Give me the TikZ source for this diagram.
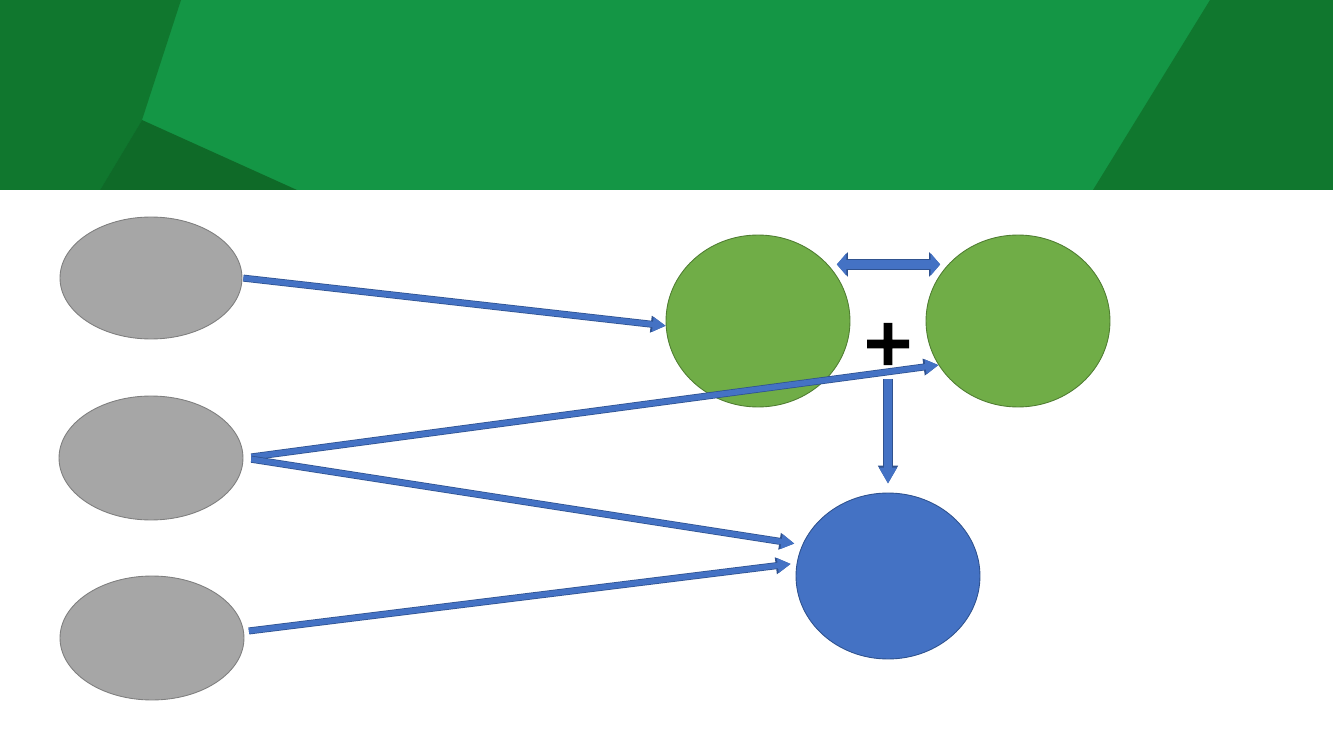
\documentclass[tikz,border=0pt]{standalone}
\usepackage{fontspec}
\usetikzlibrary{shapes.geometric,arrows.meta}
\newfontfamily\plusfont{DejaVu Sans}[BoldFeatures={FakeBold=2}]
\definecolor{hdrlight}{HTML}{149645}
\definecolor{hdrdark}{HTML}{10772E}
\definecolor{hdrdeep}{HTML}{0F6A28}
\definecolor{grayfill}{HTML}{A6A6A6}
\definecolor{grayline}{HTML}{7F7F7F}
\definecolor{leaffill}{HTML}{70AD47}
\definecolor{leafline}{HTML}{507E32}
\definecolor{bluefill}{HTML}{4472C4}
\definecolor{blueline}{HTML}{2F528F}
% 1px of the reference = 0.02cm
\tikzset{
  grayoval/.style={ellipse,fill=grayfill,draw=grayline,line width=0.5pt,inner sep=0pt,
    minimum width=3.64cm,minimum height=2.44cm},
  leafoval/.style={ellipse,fill=leaffill,draw=leafline,line width=0.5pt,inner sep=0pt,
    minimum width=3.68cm,minimum height=3.44cm},
  blueoval/.style={ellipse,fill=bluefill,draw=blueline,line width=0.5pt,inner sep=0pt,
    minimum width=3.68cm,minimum height=3.32cm},
  blockarrow/.style={line width=0.11cm,draw=bluefill,
    -{Triangle[width=0.28cm,length=0.26cm]},
    preaction={draw=blueline,line width=0.14cm,-{Triangle[width=0.32cm,length=0.3cm]}}},
  fatarrow/.style={line width=0.16cm,draw=bluefill,
    -{Triangle[width=0.34cm,length=0.32cm]},
    preaction={draw=blueline,line width=0.19cm,-{Triangle[width=0.38cm,length=0.36cm]}}},
  twinarrow/.style={line width=0.18cm,draw=bluefill,
    {Triangle[width=0.44cm,length=0.19cm]}-{Triangle[width=0.44cm,length=0.19cm]},
    preaction={draw=blueline,line width=0.21cm,
      {Triangle[width=0.48cm,length=0.22cm]}-{Triangle[width=0.48cm,length=0.22cm]}}}
}
\begin{document}
\begin{tikzpicture}[x=0.02cm,y=-0.02cm]
\useasboundingbox (0,0) rectangle (1333,750);
% header band
\fill[hdrlight] (0,0) rectangle (1333,190);
\fill[hdrdark] (0,0) -- (181,0) -- (142,120) -- (100,190) -- (0,190) -- cycle;
\fill[hdrdeep] (142,120) -- (297,190) -- (100,190) -- cycle;
\fill[hdrdark] (1210,0) -- (1333,0) -- (1333,190) -- (1093,190) -- cycle;
% ovals
\node[grayoval] (E1) at (151,278) {};
\node[grayoval,minimum width=3.68cm,minimum height=2.48cm] (E2) at (151,458) {};
\node[grayoval,minimum width=3.68cm,minimum height=2.48cm] (E3) at (152,638) {};
\node[leafoval] (G1) at (758,321) {};
\node[leafoval] (G2) at (1018,321) {};
\node[blueoval] (B) at (888,576) {};
\node[font=\plusfont\bfseries\fontsize{37}{37}\selectfont,inner sep=0pt] (P) at (888,344) {+};
% arrows
\draw[blockarrow,shorten <=0.02cm] (E1.east) -- (G1.183);
\draw[blockarrow,shorten <=0.16cm] (E2.east) -- (G2.209);
\draw[blockarrow,shorten <=0.16cm,shorten >=0.16cm] (E2.east) -- (B.160);
\draw[blockarrow,shorten <=0.1cm,shorten >=0.12cm] (E3.4) -- (B.172);
\draw[twinarrow,shorten <=0.18cm,shorten >=0.16cm] (G1.39) -- (G2.141);
\draw[fatarrow,shorten <=0.28cm,shorten >=0.18cm] (P.south -| B.north) -- (B.north);
\end{tikzpicture}
\end{document}
